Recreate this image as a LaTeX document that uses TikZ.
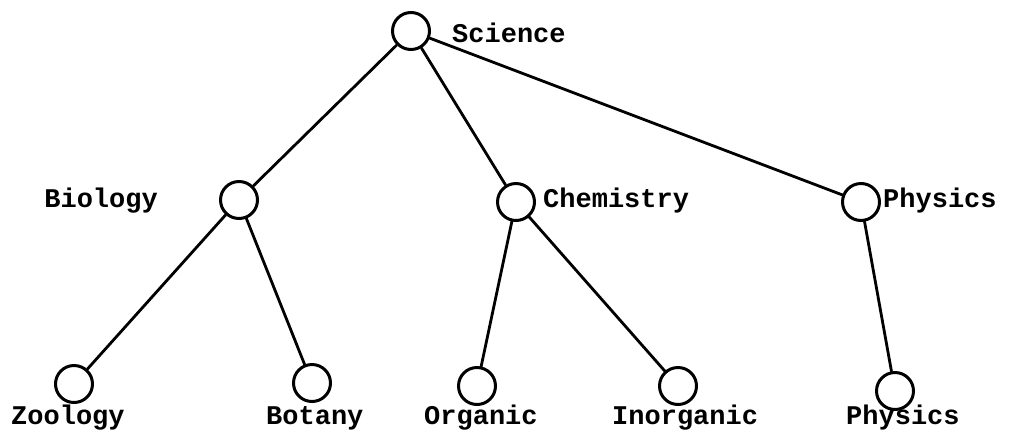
\documentclass[tikz,border=0pt]{standalone}
\usepackage{fontspec}
\setmonofont{Liberation Mono}
\begin{document}
\begin{tikzpicture}[x=1pt,y=-1pt,
  vtx/.style={circle, draw=black, line width=3pt, minimum size=37pt, inner sep=0pt},
  lbl/.style={font=\ttfamily\bfseries\fontsize{27}{27}\selectfont, inner sep=0pt},
  link/.style={line width=2.8pt, line cap=round}]
\useasboundingbox (0,0) rectangle (1019,432);
% nodes
\node[vtx] (sci) at (411,31) {};
\node[vtx] (bio) at (239,200) {};
\node[vtx] (che) at (516,202) {};
\node[vtx] (phy) at (861,202) {};
\node[vtx] (zoo) at (74,384) {};
\node[vtx] (bot) at (312,383) {};
\node[vtx] (org) at (477,386) {};
\node[vtx] (ino) at (678,386) {};
\node[vtx] (phl) at (895,391) {};
% labels
\node[lbl, anchor=base west] (tsci) at (452,42) {Science};
\node[lbl, anchor=base east] (tbio) at (158,207) {Biology};
\node[lbl, anchor=base west] (tche) at (543,207) {Chemistry};
\node[lbl, anchor=base west] (tphy) at (883,207) {Physics};
\node[lbl, anchor=base west] (tzoo) at (11,424) {Zoology};
\node[lbl, anchor=base west] (tbot) at (266,424) {Botany};
\node[lbl, anchor=base west] (torg) at (424,424) {Organic};
\node[lbl, anchor=base west] (tino) at (612,424) {Inorganic};
\node[lbl, anchor=base west] (tphl) at (846,424) {Physics};
% edges
\draw[link] (sci) -- (bio);
\draw[link] (sci) -- (che);
\draw[link] (sci) -- (phy);
\draw[link] (bio) -- (zoo);
\draw[link] (bio) -- (bot);
\draw[link] (che) -- (org);
\draw[link] (che) -- (ino);
\draw[link] (phy) -- (phl);
\end{tikzpicture}
\end{document}
